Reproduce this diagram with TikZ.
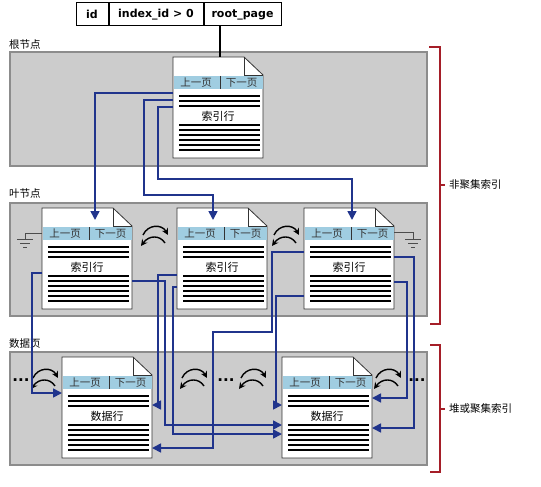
\documentclass[tikz,border=0pt]{standalone}
\usepackage{fontspec}
\setmainfont{DejaVu Sans}
\newfontfamily\cjk{Noto Sans CJK SC}
\usetikzlibrary{
    arrows.meta,
    calc,
    positioning
}

\definecolor{linkblue}{RGB}{32,52,140}
\definecolor{headblue}{RGB}{160,205,225}
\definecolor{bandgray}{RGB}{204,204,204}
\definecolor{bracketred}{RGB}{165,30,40}

\tikzset{
    band/.style={fill=bandgray, draw=black!45, line width=1.2pt},
    bandlabel/.style={font=\cjk\fontsize{10.5}{12}\selectfont, inner sep=0pt, anchor=west},
    cell/.style={draw, line width=1pt, minimum height=23pt, inner sep=0pt,
        font=\bfseries\fontsize{11}{13}\selectfont},
    pagenode/.style={minimum width=90pt, minimum height=101pt, inner sep=0pt,
        outer sep=0pt, anchor=north west},
    pageline/.style={draw=black!80, fill=white, line width=0.8pt},
    headtext/.style={font=\cjk\fontsize{10.5}{12}\selectfont, text=black!80, inner sep=0pt},
    rowtext/.style={font=\cjk\fontsize{11}{12}\selectfont, inner sep=0pt},
    rowline/.style={line width=2pt},
    link/.style={draw=linkblue, line width=1.7pt, -{Triangle[length=9pt,width=9pt]}},
    swaparrow/.style={line width=1.4pt, -{Stealth[length=6.5pt,width=6.5pt]}},
    dots/.style={font=\bfseries\fontsize{15}{15}\selectfont, inner sep=0pt, anchor=base},
    ground/.style={draw=black!70, line width=1pt},
    bracket/.style={draw=bracketred, line width=1.5pt},
    sidelabel/.style={font=\cjk\fontsize{10.5}{12}\selectfont, inner sep=0pt, anchor=west}
}

% page with a folded corner, a header and rows
\newcommand{\docpage}[4]{%
    \node[pagenode] (#1) at (#2,#3) {};
    \draw[pageline] (#1.south west) -- (#1.north west) -- ([xshift=-19pt]#1.north east)
        -- ([yshift=-18pt]#1.north east) -- (#1.south east) -- cycle;
    \draw[draw=black!80, line width=0.8pt] ([xshift=-19pt]#1.north east)
        -- ([shift={(-19pt,-18pt)}]#1.north east) -- ([yshift=-18pt]#1.north east);
    \fill[headblue] ([shift={(0.5pt,-19pt)}]#1.north west) rectangle ([shift={(-0.5pt,-32pt)}]#1.north east);
    \draw[line width=1pt, black!80] ([shift={(47pt,-19pt)}]#1.north west) -- ++(0,13);
    \node[headtext] at ([shift={(23pt,-25.5pt)}]#1.north west) {上一页};
    \node[headtext] at ([shift={(68.5pt,-25.5pt)}]#1.north west) {下一页};
    \foreach \ry in {39,44,49,68,73,78,83,88,93}
        \draw[rowline] ([shift={(6pt,-\ry pt)}]#1.north west) -- ++(81,0);
    \node[rowtext] at ([shift={(45pt,-59pt)}]#1.north west) {#4};
}

% two curved arrows swapping direction
\newcommand{\swaparrows}[2]{%
    \draw[swaparrow] (#1,#2) ++(-12,-3) .. controls +(5,-11) and +(-6,-11) .. ++(25,0);
    \draw[swaparrow] (#1,#2) ++(10,5) .. controls +(-5,-8) and +(8,-11) .. ++(-24,3);
}

\begin{document}
\begin{tikzpicture}[x=1pt, y=-1pt]
    \useasboundingbox (0,0) rectangle (541,487);

    % levels
    \draw[band] (10,52) rectangle (427,166);
    \draw[band] (10,203) rectangle (427,316);
    \draw[band] (10,352) rectangle (427,465);
    \node[bandlabel] (rootlabel) at (9,45) {根节点};
    \node[bandlabel] (leaflabel) at (9,194) {叶节点};
    \node[bandlabel] (datalabel) at (9,344) {数据页};

    % sysindexes row
    \node[cell, minimum width=32pt] (idcell) at (92,14.5) {id};
    \node[cell, minimum width=94pt, right=0pt of idcell] (idxcell) {index\_id > 0};
    \node[cell, minimum width=77pt, right=0pt of idxcell] (rpcell) {root\_page};

    % pages
    \docpage{root}{173}{57}{索引行}
    \docpage{leafA}{42}{208}{索引行}
    \docpage{leafB}{177}{208}{索引行}
    \docpage{leafC}{304}{208}{索引行}
    \docpage{dataA}{62}{357}{数据行}
    \docpage{dataB}{282}{357}{数据行}

    \draw[line width=1.5pt] ([xshift=2pt]rpcell.south -| root.north) -- ([xshift=2pt]root.north);

    % ends of the leaf chain
    \draw[ground] ([yshift=-25pt]leafA.north west) -- ++(-17,0) -- ++(0,6);
    \draw[ground] (17,239) -- (33,239) (20,243) -- (30,243) (23,247) -- (27,247);
    \draw[ground] ([yshift=-24pt]leafC.north east) -- ++(19,0) -- ++(0,7);
    \draw[ground] (405,239) -- (421,239) (408,243) -- (418,243) (411,247) -- (415,247);

    % previous / next links
    \swaparrows{155}{238}
    \swaparrows{286}{238}
    \swaparrows{45}{381}
    \swaparrows{194}{381}
    \swaparrows{253}{381}
    \swaparrows{388}{381}
    \node[dots] (dotsA) at (21,381) {...};
    \node[dots] (dotsB) at (226,381) {...};
    \node[dots] (dotsC) at (417,381) {...};

    % root to leaves
    \draw[link] ([yshift=-36pt]root.north west) -| ([shift={(53pt,-12pt)}]leafA.north west);
    \draw[link] ([yshift=-43pt]root.north west) -| ++(-29,95) -| ([shift={(36pt,-12pt)}]leafB.north west);
    \draw[link] ([yshift=-50pt]root.north west) -| ++(-15,72) -| ([shift={(48pt,-12pt)}]leafC.north west);

    % leaves to data pages
    \draw[link] ([yshift=-65pt]leafA.north west) -- ++(-10,0) |- ([yshift=-36pt]dataA.north west);
    \draw[link] ([yshift=-73pt]leafA.north east) -- ++(33,0) |- ([yshift=-68pt]dataB.north west);
    \draw[link] ([yshift=-67pt]leafB.north west) -- ++(-19,0) |- ([yshift=-48pt]dataA.north east);
    \draw[link] ([yshift=-79pt]leafB.north west) -- ++(-4,0) |- ([yshift=-77pt]dataB.north west);
    \draw[link] ([yshift=-44pt]leafC.north west) -- ++(-32,0) |- ++(-59,80) |- ([yshift=-91pt]dataA.north east);
    \draw[link] ([yshift=-88pt]leafC.north west) -- ++(-28,0) |- ([yshift=-48pt]dataB.north west);
    \draw[link] ([yshift=-49pt]leafC.north east) -- ++(20,0) |- ([yshift=-71pt]dataB.north east);
    \draw[link] ([yshift=-74pt]leafC.north east) -- ++(13,0) |- ([yshift=-41pt]dataB.north east);

    % index kinds
    \draw[bracket] (429,47) -| (440,324) -- (430,324);
    \draw[bracket] (440,185) -- (445,185);
    \node[sidelabel] (nclabel) at (449,185) {非聚集索引};
    \draw[bracket] (430,345) -| (440,472) -- (430,472);
    \draw[bracket] (440,409) -- (445,409);
    \node[sidelabel] (heaplabel) at (449,409) {堆或聚集索引};
\end{tikzpicture}
\end{document}
